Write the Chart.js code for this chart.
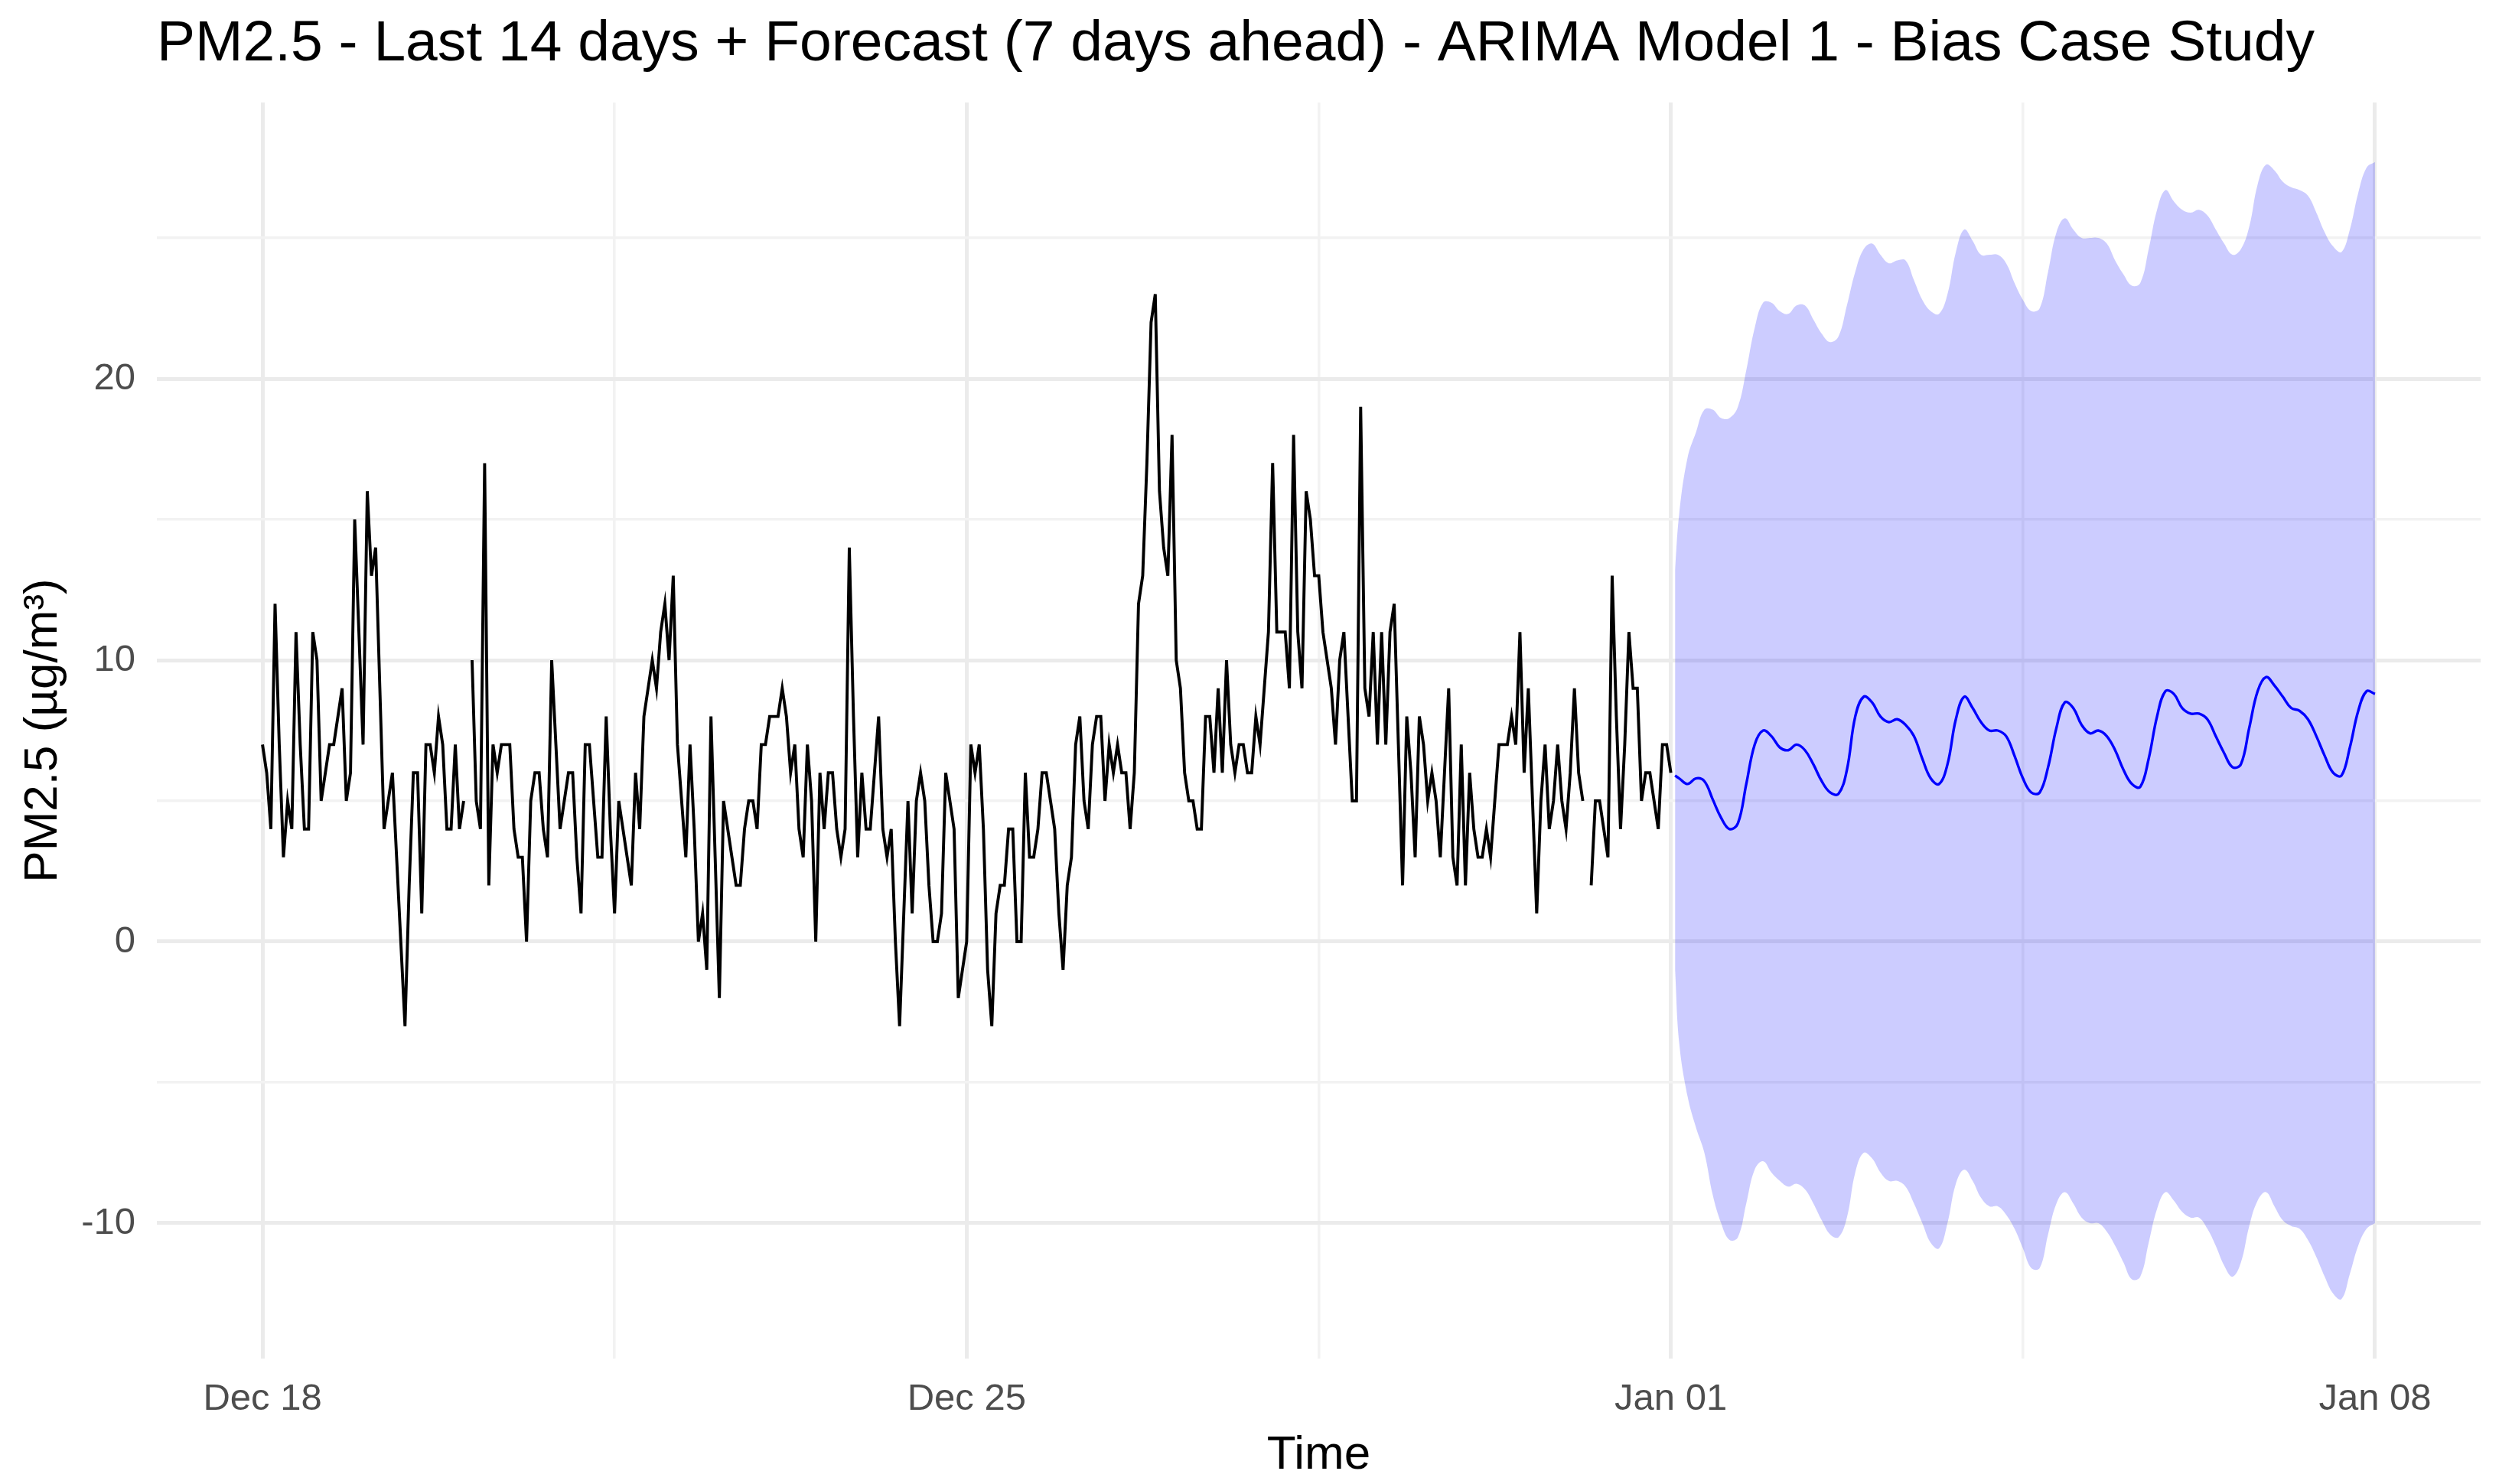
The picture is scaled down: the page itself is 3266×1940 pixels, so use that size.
<!DOCTYPE html>
<html>
<head>
<meta charset="utf-8">
<title>PM2.5 - ARIMA Model 1 - Bias Case Study</title>
<script src="https://cdn.jsdelivr.net/npm/chart.js@4.4.1/dist/chart.umd.min.js"></script>
<style>
    html, body { margin: 0; padding: 0; background: #ffffff; }
    #wrap { width: 3266px; height: 1940px; position: relative; }
</style>
</head>
<body>
<div id="wrap"><canvas id="pmChart"></canvas></div>
<script>
// PM2.5 hourly series (hour 0 = Dec 18 00:00), last 14 days, null = missing hour
const obsValues = [
    7, 6, 4, 12, 7, 3, 5, 4, 11, 7,
    4, 4, 11, 10, 5, 6, 7, 7, 8, 9,
    5, 6, 15, 11, 7, 16, 13, 14, 9, 4,
    5, 6, 3, 0, -3, 2, 6, 6, 1, 7,
    7, 6, 8, 7, 4, 4, 7, 4, 5, null,
    10, 5, 4, 17, 2, 7, 6, 7, 7, 7,
    4, 3, 3, 0, 5, 6, 6, 4, 3, 10,
    7, 4, 5, 6, 6, 3, 1, 7, 7, 5,
    3, 3, 8, 4, 1, 5, 4, 3, 2, 6,
    4, 8, 9, 10, 9, 11, 12, 10, 13, 7,
    5, 3, 7, 4, 0, 1, -1, 8, 3, -2,
    5, 4, 3, 2, 2, 4, 5, 5, 4, 7,
    7, 8, 8, 8, 9, 8, 6, 7, 4, 3,
    7, 5, 0, 6, 4, 6, 6, 4, 3, 4,
    14, 8, 3, 6, 4, 4, 6, 8, 4, 3,
    4, 0, -3, 1, 5, 1, 5, 6, 5, 2,
    0, 0, 1, 6, 5, 4, -2, -1, 0, 7,
    6, 7, 4, -1, -3, 1, 2, 2, 4, 4,
    0, 0, 6, 3, 3, 4, 6, 6, 5, 4,
    1, -1, 2, 3, 7, 8, 5, 4, 7, 8,
    8, 5, 7, 6, 7, 6, 6, 4, 6, 12,
    13, 17, 22, 23, 16, 14, 13, 18, 10, 9,
    6, 5, 5, 4, 4, 8, 8, 6, 9, 6,
    10, 7, 6, 7, 7, 6, 6, 8, 7, 9,
    11, 17, 11, 11, 11, 9, 18, 11, 9, 16,
    15, 13, 13, 11, 10, 9, 7, 10, 11, 8,
    5, 5, 19, 9, 8, 11, 7, 11, 7, 11,
    12, 7, 2, 8, 6, 3, 8, 7, 5, 6,
    5, 3, 6, 9, 3, 2, 7, 2, 6, 4,
    3, 3, 4, 3, 5, 7, 7, 7, 8, 7,
    11, 6, 9, 5, 1, 5, 7, 4, 5, 7,
    5, 4, 6, 9, 6, 5, null, 2, 5, 5,
    4, 3, 13, 8, 4, 7, 11, 9, 9, 5,
    6, 6, 5, 4, 7, 7, 6
];

// Forecast (7 days ahead), read every 2 hours
const fcHours = [
    337, 338, 340, 342, 344, 346, 348, 350, 352, 354, 356, 358, 360, 362, 364,
    366, 368, 370, 372, 374, 376, 378, 380, 382, 384, 386, 388, 390, 392,
    394, 396, 398, 400, 402, 404, 406, 408, 410, 412, 414, 416, 418, 420, 422,
    424, 426, 428, 430, 432, 434, 436, 438, 440, 442, 444, 446, 448, 450,
    452, 454, 456, 458, 460, 462, 464, 466, 468, 470, 472, 474, 476, 478, 480,
    482, 484, 486, 488, 490, 492, 494, 496, 498, 500, 502, 504
];
const fcMean = [
    5.9, 5.8, 5.6, 5.8, 5.7, 5.05, 4.4, 4.0, 4.2, 5.6, 7.0, 7.5, 7.3, 6.9, 6.8,
    7.0, 6.8, 6.3, 5.7, 5.3, 5.25, 6.1, 8.0, 8.7, 8.5, 8.0, 7.8, 7.9, 7.7,
    7.3, 6.5, 5.8, 5.6, 6.3, 7.9, 8.7, 8.3, 7.8, 7.5, 7.5, 7.3, 6.6, 5.8, 5.3,
    5.3, 6.2, 7.6, 8.5, 8.3, 7.7, 7.4, 7.5, 7.3, 6.8, 6.1, 5.6, 5.5, 6.5,
    8.0, 8.9, 8.8, 8.3, 8.1, 8.1, 7.9, 7.3, 6.7, 6.2, 6.3, 7.6, 8.9, 9.4, 9.1,
    8.7, 8.3, 8.2, 7.9, 7.3, 6.6, 6.0, 5.9, 6.9, 8.2, 8.9, 8.8
];
const fcUpper = [
    13.2, 15.2, 17.2, 18.1, 18.9, 18.9, 18.6, 18.6, 19.0, 20.3, 21.8, 22.7, 22.7, 22.4, 22.3,
    22.6, 22.6, 22.1, 21.6, 21.3, 21.5, 22.6, 23.8, 24.6, 24.8, 24.4, 24.1, 24.2, 24.2,
    23.5, 22.8, 22.4, 22.3, 23.0, 24.5, 25.3, 24.9, 24.4, 24.4, 24.4, 24.1, 23.4, 22.8, 22.4,
    22.5, 23.8, 25.2, 25.7, 25.3, 25.0, 25.0, 25.0, 24.8, 24.2, 23.7, 23.3, 23.4, 24.6,
    26.0, 26.7, 26.3, 26.0, 25.9, 26.0, 25.8, 25.3, 24.8, 24.4, 24.6, 25.4, 26.9, 27.6, 27.4,
    27.0, 26.8, 26.7, 26.5, 25.9, 25.2, 24.7, 24.5, 25.3, 26.6, 27.5, 27.7
];
const fcLower = [
    -1.0, -3.6, -5.5, -6.6, -7.5, -9.0, -10.0, -10.6, -10.5, -9.3, -8.1, -7.8, -8.2, -8.5, -8.7,
    -8.6, -8.8, -9.3, -9.9, -10.4, -10.5, -9.8, -8.2, -7.5, -7.7, -8.2, -8.5, -8.5, -8.7,
    -9.3, -10.0, -10.7, -10.9, -10.0, -8.6, -8.1, -8.5, -9.1, -9.4, -9.4, -9.7, -10.2, -10.9, -11.6,
    -11.6, -10.4, -9.3, -8.9, -9.3, -9.8, -10.0, -10.0, -10.3, -10.8, -11.4, -12.0, -11.9, -10.7,
    -9.5, -8.9, -9.2, -9.6, -9.8, -9.8, -10.2, -10.8, -11.5, -11.9, -11.4, -10.1, -9.2, -8.9, -9.4,
    -9.9, -10.1, -10.2, -10.6, -11.2, -11.9, -12.5, -12.7, -11.8, -10.8, -10.2, -10.0
];

// Axis ticks (x in hours since Dec 18 00:00)
const xTickValues = [0, 84, 168, 252, 336, 420, 504];
const xTickLabels = ['Dec 18', '', 'Dec 25', '', 'Jan 01', '', 'Jan 08'];
const yTickValues = [-10, -5, 0, 5, 10, 15, 20, 25];
const yTickLabels = ['-10', '', '0', '', '10', '', '20', ''];

const FONT = "'Liberation Sans', Arial, Helvetica, sans-serif";

function toPoints(xs, ys) {
    return xs.map((x, i) => ({ x: x, y: ys[i] }));
}

function isMajorX(v) { return v % 168 === 0; }
function isMajorY(v) { return v % 10 === 0; }

function buildChart() {
    const ctx = document.getElementById('pmChart');
    const obsHours = obsValues.map((v, i) => i);

    new Chart(ctx, {
        type: 'line',
        data: {
            datasets: [
                {
                    label: 'Observed',
                    data: toPoints(obsHours, obsValues),
                    borderColor: '#000000',
                    borderWidth: 3.9,
                    pointRadius: 0,
                    tension: 0,
                    spanGaps: false,
                    order: 1
                },
                {
                    label: 'Forecast',
                    data: toPoints(fcHours, fcMean),
                    borderColor: '#0000ff',
                    borderWidth: 3.4,
                    pointRadius: 0,
                    tension: 0.4,
                    order: 0
                },
                {
                    label: 'Upper',
                    data: toPoints(fcHours, fcUpper),
                    borderWidth: 0,
                    borderColor: 'rgba(0,0,0,0)',
                    backgroundColor: 'rgba(0, 0, 255, 0.2)',
                    pointRadius: 0,
                    tension: 0.4,
                    fill: '+1',
                    order: 3
                },
                {
                    label: 'Lower',
                    data: toPoints(fcHours, fcLower),
                    borderWidth: 0,
                    borderColor: 'rgba(0,0,0,0)',
                    pointRadius: 0,
                    tension: 0.4,
                    fill: false,
                    order: 3
                }
            ]
        },
        options: {
            responsive: true,
            maintainAspectRatio: false,
            devicePixelRatio: 1,
            animation: false,
            layout: { padding: { top: 0, left: 0, right: 24, bottom: 0 } },
            plugins: {
                legend: { display: false },
                tooltip: { enabled: false },
                title: {
                    display: true,
                    text: 'PM2.5 - Last 14 days + Forecast (7 days ahead) - ARIMA Model 1 - Bias Case Study',
                    align: 'start',
                    fullSize: false,
                    color: '#000000',
                    font: { family: FONT, size: 75, weight: 'normal', lineHeight: 1.2 },
                    padding: { top: 13, bottom: 31 }
                }
            },
            scales: {
                x: {
                    type: 'linear',
                    min: -25.2,
                    max: 529.2,
                    afterBuildTicks: (scale) => {
                        scale.ticks = xTickValues.map(v => ({ value: v }));
                    },
                    afterFit: (scale) => { scale.height = 164; },
                    ticks: {
                        autoSkip: false,
                        maxRotation: 0,
                        padding: 24,
                        color: '#4d4d4d',
                        font: { family: FONT, size: 49 },
                        callback: (value) => xTickLabels[xTickValues.indexOf(value)]
                    },
                    grid: {
                        drawTicks: false,
                        color: (c) => isMajorX(c.tick.value) ? '#ebebeb' : '#f2f2f2',
                        lineWidth: (c) => isMajorX(c.tick.value) ? 5 : 3.5
                    },
                    border: { display: false },
                    title: {
                        display: true,
                        text: 'Time',
                        color: '#000000',
                        font: { family: FONT, size: 62, lineHeight: 1.2 },
                        padding: { top: 7, bottom: 0 }
                    }
                },
                y: {
                    type: 'linear',
                    min: -14.81,
                    max: 29.81,
                    afterBuildTicks: (scale) => {
                        scale.ticks = yTickValues.map(v => ({ value: v }));
                    },
                    afterFit: (scale) => { scale.width = 205; },
                    ticks: {
                        padding: 28,
                        color: '#4d4d4d',
                        font: { family: FONT, size: 49 },
                        callback: (value) => yTickLabels[yTickValues.indexOf(value)]
                    },
                    grid: {
                        drawTicks: false,
                        color: (c) => isMajorY(c.tick.value) ? '#ebebeb' : '#f2f2f2',
                        lineWidth: (c) => isMajorY(c.tick.value) ? 5 : 3.5
                    },
                    border: { display: false },
                    title: {
                        display: true,
                        text: 'PM2.5 (µg/m³)',
                        color: '#000000',
                        font: { family: FONT, size: 62, lineHeight: 1.2 },
                        padding: { top: 20, bottom: 0 }
                    }
                }
            }
        }
    });
}

document.addEventListener('DOMContentLoaded', function() {
    buildChart();
});
</script>
</body>
</html>
